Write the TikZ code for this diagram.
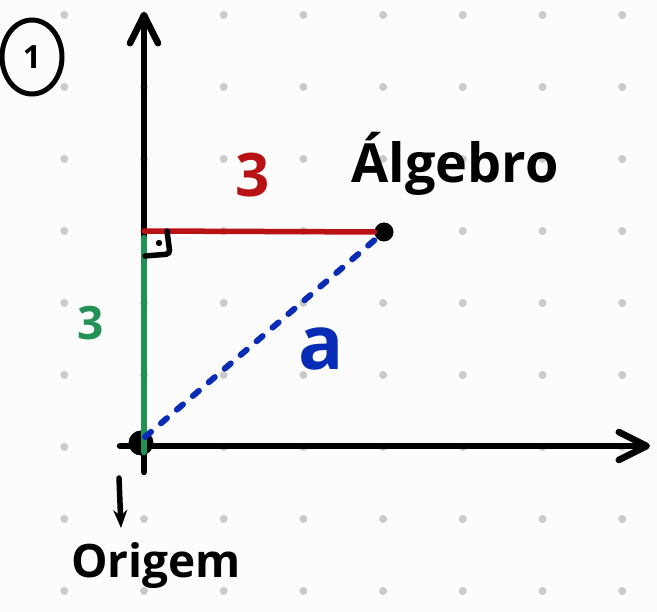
\documentclass[tikz,border=0pt]{standalone}
\usepackage{fontspec}
\setmainfont{Open Sans}
\usetikzlibrary{arrows.meta, shapes.geometric}

\definecolor{gridgray}{RGB}{202,202,202}
\definecolor{sketchred}{RGB}{185,18,20}
\definecolor{sketchgreen}{RGB}{34,145,86}
\definecolor{sketchblue}{RGB}{8,44,182}
\definecolor{paper}{RGB}{252,252,252}

\begin{document}
\begin{tikzpicture}[
  x=1pt, y=-1pt,
  axis/.style={line width=6.5pt, line cap=round,
    -{Straight Barb[length=28pt, width=28pt, round]}},
  leg/.style={line width=6.5pt, line cap=round},
  pt/.style={circle, fill=black, inner sep=0pt},
  lbl/.style={inner sep=0pt, anchor=base}
]
\fill[paper] (0,0) rectangle (657,612);
\useasboundingbox (0,0) rectangle (657,612);

% dotted paper
\foreach \i in {0,...,7}
  \foreach \j in {0,...,8}
    \fill[gridgray] ({64.3+79.7*\i},{15+72*\j}) circle (4pt);

\coordinate (ybot) at (144,472);
\coordinate (ytop) at (144,12);
\coordinate (xleft) at (120,446);
\coordinate (xright) at (650,446);
\coordinate (C) at (144,231);

\draw[axis] (ybot) -- (ytop);
\draw[axis] (xleft) -- (xright);

\node[pt, minimum size=25pt] (O) at (141,443) {};
\node[pt, minimum size=19pt] (P) at (384,232) {};

\draw[leg, sketchgreen] ([yshift=-7pt]C) -- ([yshift=-9pt]C |- O);
\draw[leg, sketchred, line width=5.5pt] (C) -- (P);
\draw[leg, sketchblue, line width=6pt, dash pattern=on 8pt off 13pt]
  ([shift={(4pt,6pt)}]O.center) -- (P.center);

% right angle
\draw[line width=5.5pt, line cap=round, rounded corners=4pt]
  (167,231) -- (170,254) -- (145,256);
\fill (159,243) circle (3.2pt);

\node[draw, ellipse, line width=5pt, minimum width=60pt, minimum height=74pt,
  inner sep=0pt, font=\bfseries\fontsize{32}{34}\selectfont] (num) at (32,57) {1};

\node[lbl, font=\bfseries\fontsize{54}{60}\selectfont] (alg) at (455,183) {Álgebro};
\node[lbl, font=\bfseries\fontsize{46}{52}\selectfont] (ori) at (156,578) {Origem};
\node[lbl, sketchred, font=\bfseries\fontsize{60}{64}\selectfont] (h) at (253,197) {3};
\node[lbl, sketchgreen, font=\bfseries\fontsize{46}{50}\selectfont] (v) at (91,340) {3};
\node[lbl, sketchblue, font=\bfseries\fontsize{75}{80}\selectfont] (a) at (321,370) {a};

\draw[line width=5.5pt, line cap=round, -{Stealth[length=18pt, width=14pt]}]
  (119,478) -- (121,528);
\end{tikzpicture}
\end{document}
